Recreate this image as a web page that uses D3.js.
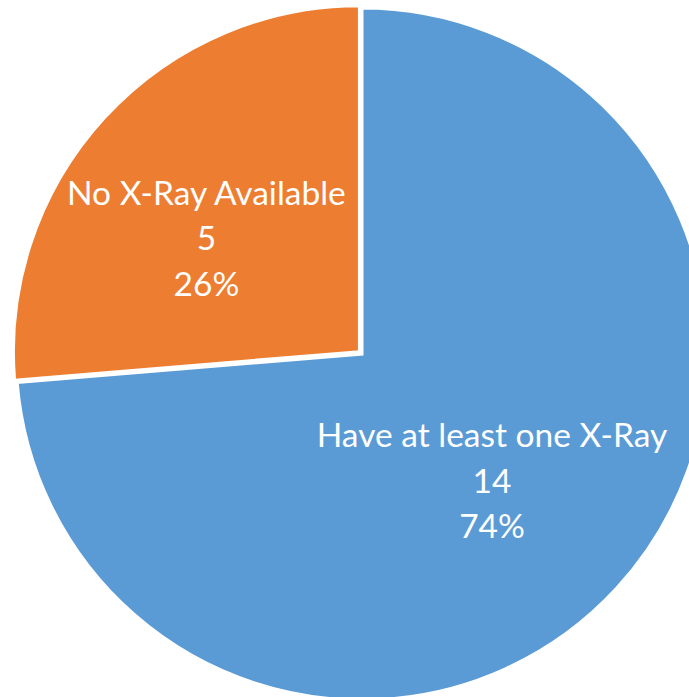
<!DOCTYPE html>
<html><head><meta charset="utf-8">
<script src="https://cdn.jsdelivr.net/npm/d3@7"></script>
<style>body{margin:0;background:#fff;}svg{display:block;}</style>
</head><body>
<svg id="c" width="689" height="697"></svg>
<script>
const categories = ["Have at least one X-Ray", "No X-Ray Available"];
const values = [14, 5];
const percentLabels = ["74%", "26%"];
const colors = ["#5B9BD5", "#ED7D31"];

const W = 689, H = 697;
const cx = 362, cy = 354, r = 346;
const svg = d3.select("#c");
const g = svg.append("g").attr("transform", `translate(${cx},${cy})`);

const pie = d3.pie().sort(null).value(d => d.v).startAngle(0).endAngle(2 * Math.PI);
const data = categories.map((c, i) => ({c, v: values[i], p: percentLabels[i], col: colors[i]}));
const arcs = pie(data);
const arc = d3.arc().innerRadius(0).outerRadius(r);
const explode = [0, 3.5];

const slices = g.selectAll("g.s").data(arcs).join("g").attr("class", "s")
  .attr("transform", (d, i) => {
    const a = (d.startAngle + d.endAngle) / 2;
    return `translate(${Math.sin(a) * explode[i]},${-Math.cos(a) * explode[i]})`;
  });
slices.append("path").attr("d", arc).attr("fill", d => d.data.col)
  .attr("stroke", "#fff").attr("stroke-width", 3).attr("stroke-linejoin", "miter");

const labelPos = [[130, 93], [-153, -147]];
slices.each(function(d, i) {
  const t = d3.select(this).append("text")
    .attr("text-anchor", "middle")
    .attr("fill", "#fff")
    .attr("font-family", "Lato, 'Open Sans', sans-serif")
    .attr("font-size", 33.5);
  [d.data.c, d.data.v, d.data.p].forEach((s, k) => {
    t.append("tspan").attr("x", labelPos[i][0]).attr("y", labelPos[i][1] + k * 45.5).text(s);
  });
});
</script>
</body></html>
